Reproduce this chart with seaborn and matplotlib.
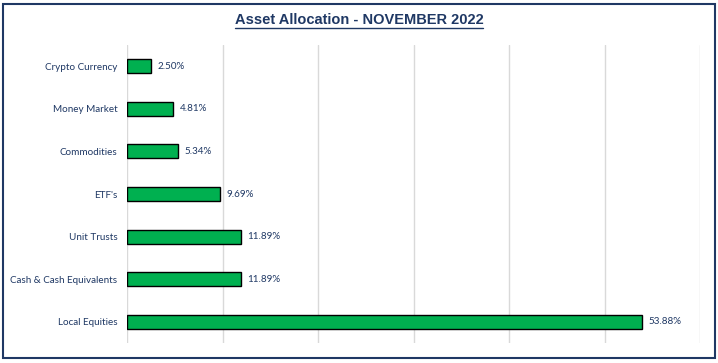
import matplotlib
matplotlib.use("Agg")
import matplotlib.pyplot as plt
import seaborn as sns
import pandas as pd
from matplotlib.patches import Rectangle

categories = ["Crypto Currency", "Money Market", "Commodities", "ETF's",
              "Unit Trusts", "Cash & Cash Equivalents", "Local Equities"]
values = [2.50, 4.81, 5.34, 9.69, 11.89, 11.89, 53.88]

df = pd.DataFrame({"asset": categories, "pct": values})

sns.set_style("white")
plt.rcParams['font.family'] = ['Lato', 'DejaVu Sans']
navy = "#1F3864"

fig = plt.figure(figsize=(7.18, 3.63), dpi=100)
ax = fig.add_axes([127/718, 20/363, 573/718, 298/363])

sns.barplot(data=df, x="pct", y="asset", order=categories, color="#00B050",
            width=0.33, edgecolor="black", linewidth=1, saturation=1, ax=ax)

ax.set_xlim(0, 60)
ax.set_ylim(6.5, -0.5)
ax.set_xticks(range(0, 61, 10))
ax.xaxis.grid(True, color="#D9D9D9", linewidth=1)
ax.set_axisbelow(True)
ax.tick_params(axis="x", length=0, labelbottom=False)
ax.tick_params(axis="y", length=0, pad=7, labelsize=7.1, labelcolor=navy)
for s in ax.spines.values():
    s.set_visible(False)
ax.set_xlabel("")
ax.set_ylabel("")

for i, v in enumerate(values):
    ax.text(v + 0.7, i, f"{v:.2f}%", va="center", ha="left", fontsize=7.1, color=navy)

t = fig.text(0.5, 1 - 20/363, "Asset Allocation - NOVEMBER 2022", ha="center", va="center",
             fontsize=10.5, fontweight="bold", color=navy, family=["Liberation Sans Narrow", "Liberation Sans"])
# underline under the title
fig.canvas.draw()
bb = t.get_window_extent().transformed(fig.transFigure.inverted())
fig.add_artist(plt.Line2D([bb.x0, bb.x1], [bb.y0 - 1/363, bb.y0 - 1/363], color=navy, linewidth=1))

fig.add_artist(Rectangle((3/718, 5/363), 712/718, 354/363, transform=fig.transFigure,
                         fill=False, edgecolor=navy, linewidth=1.5))

fig.savefig("out.png", dpi=100)
